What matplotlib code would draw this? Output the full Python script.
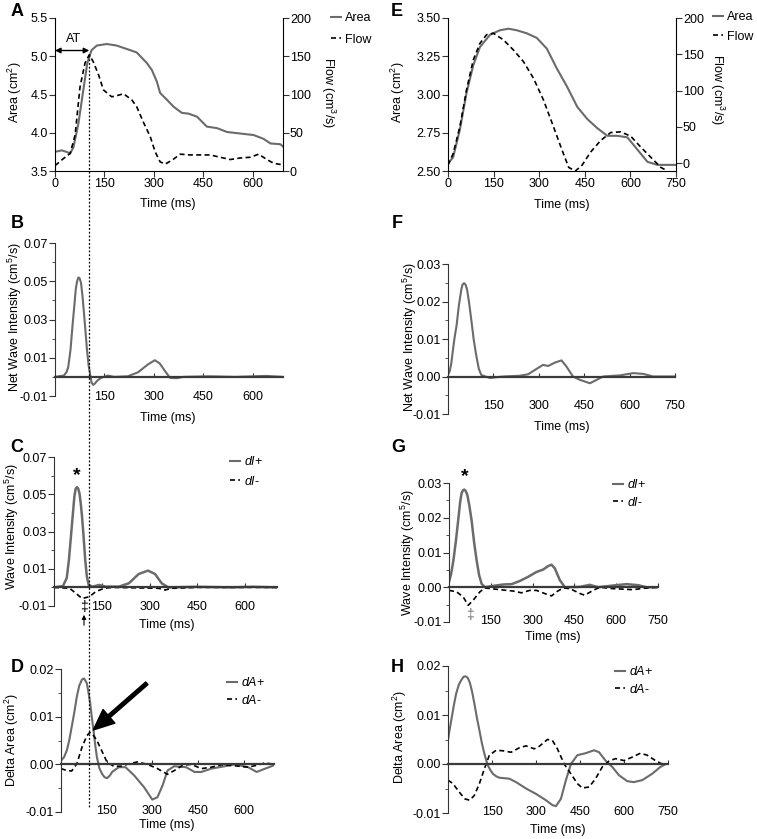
import matplotlib
matplotlib.use('Agg')
import matplotlib.pyplot as plt
from matplotlib.lines import Line2D
from matplotlib.patches import FancyArrowPatch

plt.rcParams['font.family'] = ['Liberation Sans', 'DejaVu Sans']
plt.rcParams['font.size'] = 9
plt.rcParams['mathtext.fontset'] = 'custom'
plt.rcParams['mathtext.rm'] = 'Liberation Sans'
plt.rcParams['mathtext.it'] = 'Liberation Sans:italic'
plt.rcParams['axes.unicode_minus'] = False

W, H = 757, 839
GRAY = '#6b6b6b'
AXC = '#333333'

# ---------------- data ----------------
# A: area / flow, first subject
a_t = [0, 20, 35, 46, 56, 71, 86, 98, 111, 127, 157, 187, 228, 248, 279, 294, 309, 319, 340, 360,
       385, 405, 431, 461, 492, 522, 562, 603, 633, 654, 684, 692]
a_area = [3.75, 3.77, 3.75, 3.73, 3.81, 4.12, 4.56, 4.91, 5.08, 5.14, 5.16, 5.14, 5.08, 5.05, 4.91, 4.82,
          4.67, 4.52, 4.43, 4.34, 4.26, 4.25, 4.21, 4.08, 4.06, 4.01, 3.99, 3.97, 3.92, 3.86, 3.85, 3.82]
a_ft = [0, 25, 46, 61, 76, 91, 104, 116, 132, 147, 172, 192, 208, 233, 248, 268, 289, 304, 319, 334,
        355, 380, 410, 441, 471, 501, 532, 562, 593, 618, 643, 664, 692]
a_flow = [7, 16, 23, 47, 110, 141, 152, 143, 126, 106, 97, 99, 101, 93, 84, 64, 45, 25, 12, 9,
          14, 22, 21, 21, 21, 18, 15, 17, 18, 22, 15, 10, 8]

# E: area / flow, second subject
e_t = [0, 17, 39, 61, 83, 105, 138, 171, 199, 226, 259, 292, 325, 358, 392, 425, 458, 491, 524,
       557, 590, 623, 656, 689, 750]
e_area = [2.55, 2.59, 2.77, 3.01, 3.19, 3.31, 3.39, 3.42, 3.43, 3.42, 3.40, 3.37, 3.30, 3.17, 3.05,
          2.92, 2.84, 2.78, 2.73, 2.73, 2.72, 2.64, 2.56, 2.54, 2.54]
e_ft = [0, 17, 39, 61, 83, 105, 127, 149, 182, 215, 248, 281, 314, 347, 375, 397, 419, 441, 469,
        502, 535, 568, 601, 634, 667, 700, 722]
e_flow = [-3, 13, 50, 101, 142, 165, 177, 179, 170, 156, 140, 117, 87, 50, 18, -6, -11, -3, 15,
          31, 42, 43, 37, 22, 8, -6, -11]

# B / F: net wave intensity
b_t = [0, 27, 35, 40, 47, 53, 58, 63, 67, 71, 75, 79, 83, 87, 92, 97, 102, 107, 111, 116, 121, 128,
       140, 160, 180, 221, 252, 282, 303, 318, 334, 349, 369, 390, 466, 548, 640, 692]
b_v = [0, 0.0007, 0.0025, 0.005, 0.014, 0.0265, 0.036, 0.0458, 0.050, 0.052, 0.0515, 0.049, 0.043,
       0.0353, 0.025, 0.0143, 0.006, 0.001, -0.003, -0.0042, -0.0035, -0.002, -0.0005, 0.0007, 0,
       0.0003, 0.0024, 0.0065, 0.0087, 0.007, 0.003, -0.0005, -0.0007, 0, 0.0003, 0, 0.0005, 0]
f_t = [0, 6, 11, 17, 22, 28, 36, 44, 48, 53, 58, 63, 70, 77, 85, 94, 102, 110, 138, 182, 237, 265,
       292, 314, 331, 353, 375, 391, 413, 436, 469, 491, 513, 568, 612, 645, 678, 750]
f_v = [0.0004, 0.0015, 0.0036, 0.0075, 0.0105, 0.0134, 0.019, 0.0232, 0.0245, 0.0249, 0.0245,
       0.0232, 0.0195, 0.0151, 0.0098, 0.0053, 0.002, 0.0004, -0.0004, 0, 0.0002, 0.0006, 0.002,
       0.0031, 0.0028, 0.0037, 0.0043, 0.0027, 0, -0.0009, -0.0018, -0.0009, 0, 0.0003, 0.0009,
       0.0007, 0, 0]

# C / G: separated wave intensity
c_tp = [0, 28, 40, 47, 54, 59, 64, 68, 72, 76, 80, 84, 88, 93, 98, 103, 109, 121, 142, 162, 204,
        235, 266, 295, 317, 338, 359, 450, 555, 622, 700]
c_p = [0, 0.0007, 0.005, 0.015, 0.029, 0.039, 0.0488, 0.053, 0.0538, 0.053, 0.0505, 0.045, 0.038,
       0.027, 0.0147, 0.006, 0.0013, 0.0004, 0.0013, 0.0004, 0.0004, 0.0022, 0.0072, 0.009, 0.0072,
       0.0022, 0, 0.0003, 0, 0.0003, 0]
c_tm = [0, 49, 69, 88, 111, 131, 157, 183, 328, 349, 369, 450, 700]
c_m = [0, -0.0005, -0.0032, -0.006, -0.005, -0.0023, -0.0005, 0, -0.0005, -0.0014, -0.0005, 0, 0]
g_tp = [0, 8, 16, 25, 33, 40, 45, 50, 55, 60, 66, 73, 81, 90, 99, 108, 117, 129, 159, 195, 225, 254,
        284, 314, 338, 356, 368, 380, 398, 416, 470, 505, 535, 589, 637, 679, 708, 750]
g_p = [0.0015, 0.004, 0.0078, 0.0135, 0.0193, 0.0245, 0.027, 0.0279, 0.0281, 0.0277, 0.0265,
       0.0235, 0.0193, 0.013, 0.0078, 0.0035, 0.001, 0, 0.0004, 0.0008, 0.0009, 0.0018, 0.003,
       0.0044, 0.0051, 0.0061, 0.0065, 0.0054, 0.002, 0, 0.0001, 0.0007, 0, 0.0005, 0.0009, 0.0006,
       0, 0]
g_tm = [0, 27, 51, 69, 87, 111, 129, 183, 231, 260, 290, 314, 350, 368, 386, 410, 434, 470, 487,
        517, 541, 589, 661, 697, 750]
g_m = [-0.0009, -0.0013, -0.0028, -0.0052, -0.0037, -0.0013, -0.0002, -0.0007, -0.0011, -0.0016,
       -0.0009, -0.0009, -0.002, -0.0025, -0.0013, -0.0002, -0.0004, -0.0018, -0.0023, -0.0009, 0,
       -0.0004, -0.0007, -0.0003, 0]

# D / H: delta area
d_tp = [0, 10, 19, 27, 35, 44, 52, 60, 69, 76, 85, 90, 96, 101, 107, 112, 118, 126, 135, 143, 151,
        160, 168, 190, 212, 240, 273, 300, 317, 334, 350, 372, 411, 439, 461, 494, 538, 571, 615,
        643, 671, 700]
d_p = [0.0008, 0.0015, 0.0029, 0.005, 0.0078, 0.011, 0.0142, 0.0165, 0.0178, 0.018, 0.017, 0.0152,
       0.0128, 0.010, 0.0071, 0.0043, 0.0015, -0.0008, -0.002, -0.0027, -0.0029, -0.0024, -0.0016,
       -0.0006, -0.0006, -0.0023, -0.0048, -0.0074, -0.0069, -0.0044, -0.0013, -0.0004, -0.0006,
       -0.0016, -0.0016, -0.0009, -0.0004, 0, -0.0006, -0.0016, -0.0009, -0.0002]
d_tm = [0, 19, 35, 52, 69, 85, 95, 102, 118, 135, 151, 173, 196, 223, 251, 284, 317, 350, 378, 400,
        428, 461, 494, 527, 571, 615, 643, 671, 700]
d_m = [-0.0009, -0.0013, -0.0014, 0.0001, 0.0036, 0.006, 0.0067, 0.0065, 0.005, 0.0027, 0.0005,
       -0.0004, -0.0004, 0.0001, 0.0005, 0, -0.0009, -0.0021, -0.0011, -0.0002, 0, -0.0009, -0.0006,
       -0.0001, -0.0003, -0.0006, -0.0002, 0.0003, 0]
h_tp = [0, 5, 11, 20, 28, 37, 45, 53, 60, 67, 74, 82, 90, 98, 107, 115, 124, 130, 136, 145, 153,
        164, 175, 209, 232, 266, 300, 334, 356, 368, 385, 402, 419, 441, 469, 498, 515, 537, 560,
        583, 611, 633, 662, 696, 724, 743, 750]
h_p = [0.0048, 0.0068, 0.0089, 0.012, 0.0144, 0.0162, 0.0171, 0.0178, 0.0179, 0.0176, 0.0167,
       0.0148, 0.0123, 0.0096, 0.0069, 0.0044, 0.0021, 0.0008, -0.0003, -0.0013, -0.002, -0.0025,
       -0.0028, -0.003, -0.0037, -0.005, -0.0061, -0.0074, -0.0084, -0.0086, -0.0071, -0.0033, 0,
       0.0018, 0.0022, 0.0028, 0.0024, 0.0007, -0.0006, -0.0023, -0.0035, -0.0037, -0.0033, -0.002,
       -0.0006, 0, 0]
h_tm = [0, 17, 34, 57, 74, 90, 107, 124, 141, 164, 187, 215, 243, 266, 294, 311, 339, 356, 373, 396,
        419, 441, 458, 481, 503, 526, 549, 571, 600, 628, 656, 679, 707, 730, 747]
h_m = [-0.0033, -0.004, -0.0054, -0.0071, -0.0074, -0.0064, -0.004, -0.001, 0.0018, 0.0028, 0.0027,
       0.0024, 0.0033, 0.0037, 0.0031, 0.0036, 0.005, 0.0048, 0.0031, 0, -0.002, -0.004, -0.0049,
       -0.0047, -0.003, -0.0006, 0.0006, 0.0011, 0.0007, 0.0014, 0.0022, 0.0018, 0.0007, 0, 0]

AT_ms = 104

# tick definitions
x_left = [150, 300, 450, 600]
x_right = [150, 300, 450, 600, 750]
y_bc = [-0.01, 0.01, 0.03, 0.05, 0.07]
y_bc_lab = ['-0.01', '0.01', '0.03', '0.05', '0.07']
y_fg = [-0.01, 0.0, 0.01, 0.02, 0.03]
y_fg_lab = ['-0.01', '0.00', '0.01', '0.02', '0.03']
y_dh = [-0.01, 0.0, 0.01, 0.02]
y_dh_lab = ['-0.01', '0.00', '0.01', '0.02']

fig = plt.figure(figsize=(W / 100, H / 100), dpi=100)


def box(l, t, r, b):
    return [l / W, 1 - b / H, (r - l) / W, (b - t) / H]


def ftext(x, y, s, **kw):
    fig.text(x / W, 1 - y / H, s, **kw)


def wave_axes(rect, xmax, yt, ylab, ystep, xt, lab_off):
    ax = fig.add_axes(box(*rect))
    ax.set_xlim(0, xmax)
    ax.set_ylim(yt[0], yt[-1])
    for s in ['top', 'right']:
        ax.spines[s].set_visible(False)
    ax.spines['left'].set_color(AXC)
    ax.spines['bottom'].set_position(('data', 0))
    ax.spines['bottom'].set_color('#3a3a3a')
    ax.spines['bottom'].set_linewidth(1.6)
    ax.set_xticks(xt)
    ax.tick_params(axis='x', direction='in', length=3, labelbottom=False, color=AXC)
    ax.set_yticks(yt)
    ax.set_yticklabels(ylab)
    minor = []
    v = yt[0]
    while v < yt[-1] + 1e-9:
        minor.append(round(v, 4))
        v += ystep
    ax.set_yticks(minor, minor=True)
    ax.tick_params(axis='y', which='major', length=4, color=AXC, pad=1)
    ax.tick_params(axis='y', which='minor', length=2.5, color=AXC)
    hpx = rect[3] - rect[1]
    sec = ax.secondary_xaxis(lab_off / hpx)
    sec.set_xticks(xt)
    sec.set_xticklabels([str(x) for x in xt])
    sec.spines['bottom'].set_visible(False)
    sec.tick_params(length=0, pad=-5)
    return ax


def legend(handles, labels, x, y1, y2, spacing):
    fig.legend(handles, labels, loc='center left',
               bbox_to_anchor=(x / W, 1 - (y1 + y2) / 2 / H), frameon=False,
               handlelength=0.8, handletextpad=0.3, labelspacing=spacing,
               borderpad=0, borderaxespad=0, prop={'size': 9})


solid = Line2D([], [], color=GRAY, lw=1.5)
dash = Line2D([], [], color='k', lw=1.2, ls=(0, (3, 2)))

# ---------- A ----------
ax = fig.add_axes(box(55, 18, 283, 171))
ax.plot(a_t, a_area, color=GRAY, lw=1.5)
ax.set_xlim(0, 692)
ax.set_ylim(3.5, 5.5)
ax.set_xticks([0, 150, 300, 450, 600])
ax.set_yticks([3.5, 4.0, 4.5, 5.0, 5.5])
ax.set_yticklabels(['3.5', '4.0', '4.5', '5.0', '5.5'])
ax.tick_params(length=4, color=AXC, pad=1)
for s in ['top', 'right']:
    ax.spines[s].set_visible(False)
ax2 = ax.twinx()
ax2.plot(a_ft, a_flow, color='k', lw=1.2, ls=(0, (3, 2)))
ax2.set_ylim(0, 200)
ax2.set_yticks([0, 50, 100, 150, 200])
ax2.tick_params(length=4, color=AXC, pad=1)
for s in ['top', 'left', 'bottom']:
    ax2.spines[s].set_visible(False)
ax.annotate('', xy=(0, 5.075), xytext=(AT_ms, 5.075),
            arrowprops=dict(arrowstyle='<|-|>', color='k', lw=1, mutation_scale=8, shrinkA=0, shrinkB=0))
ax.text(AT_ms / 2 + 5, 5.22, 'AT', ha='center', va='center')
ftext(168, 204, 'Time (ms)', ha='center', va='center')
ftext(15, 92, 'Area (cm$^2$)', rotation=90, ha='center', va='center')
ftext(328, 93, 'Flow (cm$^3$/s)', rotation=270, ha='center', va='center')
legend([solid, dash], ['Area', 'Flow'], 331, 18, 40, 0.75)

# ---------- E ----------
ax = fig.add_axes(box(448, 18, 676, 171))
ax.plot(e_t, e_area, color=GRAY, lw=1.5)
ax.set_xlim(0, 750)
ax.set_ylim(2.5, 3.5)
ax.set_xticks([0, 150, 300, 450, 600, 750])
ax.set_yticks([2.5, 2.75, 3.0, 3.25, 3.5])
ax.set_yticklabels(['2.50', '2.75', '3.00', '3.25', '3.50'])
ax.tick_params(length=4, color=AXC, pad=1)
for s in ['top', 'right']:
    ax.spines[s].set_visible(False)
ax2 = ax.twinx()
ax2.plot(e_ft, e_flow, color='k', lw=1.2, ls=(0, (3, 2)))
ax2.set_ylim(-11, 200)
ax2.set_yticks([0, 50, 100, 150, 200])
ax2.tick_params(length=4, color=AXC, pad=1)
for s in ['top', 'left', 'bottom']:
    ax2.spines[s].set_visible(False)
ftext(562, 205, 'Time (ms)', ha='center', va='center')
ftext(398, 92, 'Area (cm$^2$)', rotation=90, ha='center', va='center')
ftext(717, 90, 'Flow (cm$^3$/s)', rotation=270, ha='center', va='center')
legend([solid, dash], ['Area', 'Flow'], 713, 17, 37, 0.6)

# ---------- B ----------
ax = wave_axes((55, 243, 283, 396), 692, y_bc, y_bc_lab, 0.01, x_left, -2)
ax.plot(b_t, b_v, color=GRAY, lw=1.5)
ftext(168, 418, 'Time (ms)', ha='center', va='center')
ftext(15, 317, 'Net Wave Intensity (cm$^5$/s)', rotation=90, ha='center', va='center')

# ---------- F ----------
ax = wave_axes((448, 264, 675, 414), 750, y_fg, y_fg_lab, 0.005, x_right, 7)
ax.plot(f_t, f_v, color=GRAY, lw=1.5)
ftext(562, 427, 'Time (ms)', ha='center', va='center')
ftext(410, 337, 'Net Wave Intensity (cm$^5$/s)', rotation=90, ha='center', va='center')

# ---------- C ----------
ax = wave_axes((54, 457, 277, 606), 700, y_bc, y_bc_lab, 0.01, x_left, -2)
ax.plot(c_tp, c_p, color=GRAY, lw=1.8)
ax.plot(c_tm, c_m, color='k', lw=1.2, ls=(0, (3, 2)))
ax.text(71, 0.0555, '*', ha='center', va='bottom', fontsize=14, fontweight='bold')
ftext(84, 607, '\u2021', ha='center', va='center', fontsize=10)
fig.add_artist(FancyArrowPatch(
    (84 / W, 1 - 628 / H), (84 / W, 1 - 612 / H), transform=fig.transFigure,
    arrowstyle='-|>', mutation_scale=6, color='k', lw=0.8))
ftext(167, 625, 'Time (ms)', ha='center', va='center')
ftext(12, 527, 'Wave Intensity (cm$^5$/s)', rotation=90, ha='center', va='center')
legend([solid, dash], ['$dI$+', '$dI$-'], 230, 462, 481, 0.5)

# ---------- G ----------
ax = wave_axes((449, 483, 658, 622), 750, y_fg, y_fg_lab, 0.005, x_right, 0)
ax.plot(g_tp, g_p, color=GRAY, lw=1.8)
ax.plot(g_tm, g_m, color='k', lw=1.2, ls=(0, (3, 2)))
ax.text(55, 0.0295, '*', ha='center', va='bottom', fontsize=14, fontweight='bold')
ftext(470, 615, '\u2021', ha='center', va='center', fontsize=10, color='#777777')
ftext(553, 637, 'Time (ms)', ha='center', va='center')
ftext(408, 553, 'Wave Intensity (cm$^5$/s)', rotation=90, ha='center', va='center')
legend([solid, dash], ['$dI$+', '$dI$-'], 613, 485, 502, 0.35)

# ---------- D ----------
ax = wave_axes((61, 669, 274, 812), 700, y_dh, y_dh_lab, 0.005, x_left, 0)
ax.plot(d_tp, d_p, color=GRAY, lw=1.5)
ax.plot(d_tm, d_m, color='k', lw=1.2, ls=(0, (3, 2)))
ax.annotate('', xy=(106, 0.0072), xytext=(282, 0.017),
            arrowprops=dict(facecolor='black', edgecolor='black', width=2.5, headwidth=13,
                            headlength=15, shrink=0))
ftext(167, 825, 'Time (ms)', ha='center', va='center')
ftext(12, 740, 'Delta Area (cm$^2$)', rotation=90, ha='center', va='center')
legend([solid, dash], ['$dA$+', '$dA$-'], 227, 683, 700, 0.35)

# ---------- H ----------
ax = wave_axes((448, 666, 668, 813), 750, y_dh, y_dh_lab, 0.005, x_right, 0)
ax.plot(h_tp, h_p, color=GRAY, lw=1.5)
ax.plot(h_tm, h_m, color='k', lw=1.2, ls=(0, (3, 2)))
ftext(558, 830, 'Time (ms)', ha='center', va='center')
ftext(400, 737, 'Delta Area (cm$^2$)', rotation=90, ha='center', va='center')
legend([solid, dash], ['$dA$+', '$dA$-'], 615, 672, 689, 0.35)

# vertical dotted line at AT through A-D
fig.add_artist(Line2D([89 / W, 89 / W], [1 - 55 / H, 1 - 808 / H], transform=fig.transFigure,
                      color='k', lw=0.9, ls=(0, (1.5, 1.5))))

# panel letters
for letter, x, y in [('A', 17, 12), ('B', 17, 223), ('C', 17, 447), ('D', 17, 667),
                     ('E', 397, 12), ('F', 397, 223), ('G', 398, 448), ('H', 397, 667)]:
    ftext(x, y, letter, ha='center', va='center', fontsize=13, fontweight='bold')

fig.savefig('out.png', dpi=100)
